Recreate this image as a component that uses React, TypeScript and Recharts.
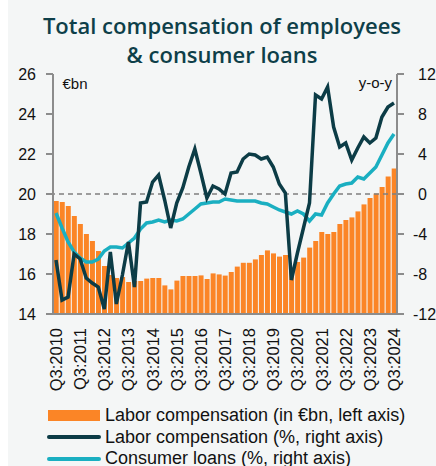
import React from "react";
import {
  ComposedChart,
  Bar,
  Line,
  XAxis,
  YAxis,
  ReferenceLine,
} from "recharts";

// quarters, Q3:2010 .. Q3:2024
const quarters = [
  "Q3:2010", "Q4:2010", "Q1:2011", "Q2:2011", "Q3:2011", "Q4:2011", "Q1:2012", "Q2:2012",
  "Q3:2012", "Q4:2012", "Q1:2013", "Q2:2013", "Q3:2013", "Q4:2013", "Q1:2014", "Q2:2014",
  "Q3:2014", "Q4:2014", "Q1:2015", "Q2:2015", "Q3:2015", "Q4:2015", "Q1:2016", "Q2:2016",
  "Q3:2016", "Q4:2016", "Q1:2017", "Q2:2017", "Q3:2017", "Q4:2017", "Q1:2018", "Q2:2018",
  "Q3:2018", "Q4:2018", "Q1:2019", "Q2:2019", "Q3:2019", "Q4:2019", "Q1:2020", "Q2:2020",
  "Q3:2020", "Q4:2020", "Q1:2021", "Q2:2021", "Q3:2021", "Q4:2021", "Q1:2022", "Q2:2022",
  "Q3:2022", "Q4:2022", "Q1:2023", "Q2:2023", "Q3:2023", "Q4:2023", "Q1:2024", "Q2:2024",
  "Q3:2024",
];

// labor compensation, €bn (left axis)
const laborBn = [
  19.65, 19.6, 19.4, 18.9, 18.5, 18.0, 17.65, 17.15, 16.4, 15.95,
  15.8, 15.85, 15.6, 15.65, 15.65, 15.77, 15.8, 15.8, 15.43, 15.23,
  15.67, 15.9, 15.9, 15.9, 15.93, 15.75, 16.03, 15.98, 15.92, 16.1,
  16.37, 16.56, 16.56, 16.73, 16.95, 17.18, 17.03, 16.87, 16.95, 16.12,
  16.6, 16.82, 17.32, 17.65, 18.1, 18.0, 18.1, 18.5, 18.7, 18.83,
  19.13, 19.48, 19.8, 20.02, 20.35, 20.87, 21.27,
];

// labor compensation, % y-o-y (right axis)
const laborPct = [
  -6.6, -10.6, -10.3, -6.0, -6.5, -8.4, -8.9, -9.3, -11.5, -5.8,
  -11.0, -8.1, -4.8, -9.3, -0.9, -0.8, 1.2, 1.9, -0.6, -3.4,
  -0.9, 0.6, 2.7, 4.5, 2.1, -0.4, 0.8, 0.5, 0.0, 2.1,
  2.2, 3.5, 4.0, 3.9, 3.5, 3.7, 2.7, 1.0, 0.1, -8.6,
  -5.9, -3.4, -0.9, 9.9, 9.5, 10.7, 6.7, 4.7, 5.1, 3.4,
  4.6, 5.7, 5.1, 5.6, 7.7, 8.7, 9.1,
];

// consumer loans, % y-o-y (right axis)
const loansPct = [
  -1.9, -3.4, -4.8, -5.8, -6.4, -6.8, -6.8, -6.5, -5.7, -5.3,
  -5.3, -5.4, -4.9, -4.4, -3.5, -2.9, -2.8, -2.6, -2.8, -2.6,
  -2.7, -2.5, -2.0, -1.5, -1.0, -0.9, -0.8, -0.8, -0.5, -0.6,
  -0.7, -0.7, -0.7, -0.7, -0.9, -1.0, -1.3, -1.6, -1.8, -2.0,
  -1.7, -2.0, -2.7, -2.0, -2.1, -0.9, 0.0, 0.8, 1.0, 1.1,
  1.7, 1.5, 2.1, 2.7, 3.9, 5.1, 6.0,
];

const leftTicks = [14, 16, 18, 20, 22, 24, 26];
const rightTicks = [-12, -8, -4, 0, 4, 8, 12];

const rows = quarters.map((q, i) => ({
  q,
  bn: laborBn[i],
  labor: laborPct[i],
  loans: loansPct[i],
}));

const FONT = "'Liberation Sans', Arial, sans-serif";
const ORANGE = "#fb8526";
const DARK = "#0c3c46";
const TEAL = "#1aafc1";
const AXIS = "#8c8c8c";

const XTick = (props: any) => {
  const { x, y, payload } = props;
  return (
    <text
      x={x}
      y={y}
      transform={`rotate(-90, ${x}, ${y})`}
      textAnchor="end"
      dominantBaseline="central"
      fontSize={16.5}
      fontFamily={FONT}
      fill="#111"
    >
      {payload.value}
    </text>
  );
};

// right labels: digits line up, the minus sign hangs to the left
const RIGHT_LABEL_X = 410;
const RightTick = (props: any) => {
  const { y, payload } = props;
  return (
    <text
      x={RIGHT_LABEL_X + (payload.value < 0 ? -5 : 0)}
      y={y}
      dy="0.355em"
      textAnchor="start"
      fontSize={16}
      fontFamily={FONT}
      fill="#111"
    >
      {payload.value}
    </text>
  );
};

const legendItems = [
  { label: "Labor compensation (in €bn, left axis)", color: ORANGE, kind: "bar" },
  { label: "Labor compensation (%, right axis)", color: DARK, kind: "line" },
  { label: "Consumer loans (%, right axis)", color: TEAL, kind: "line" },
];

export default function App() {
  return (
    <div
      style={{
        position: "absolute",
        left: 8,
        top: 0,
        width: 428,
        height: 466,
        background: "#f4f6f6",
        overflow: "hidden",
      }}
    >
      <div
        style={{
          position: "absolute",
          top: 11,
          left: 0,
          width: 428,
          textAlign: "center",
          fontFamily: "'Open Sans', sans-serif",
          fontWeight: 600,
          fontSize: 22,
          lineHeight: "29px",
          color: "#0e3f49",
        }}
      >
        Total compensation of employees
        <br />& consumer loans
      </div>

      <ComposedChart
        width={428}
        height={466}
        data={rows}
        margin={{ top: 74, right: 0, bottom: 62, left: 0 }}
        barCategoryGap="12%"
      >
        <XAxis
          dataKey="q"
          interval={3}
          tickLine={false}
          tickSize={0}
          tickMargin={14}
          height={90}
          axisLine={{ stroke: AXIS, strokeWidth: 2 }}
          tick={<XTick />}
        />
        <YAxis
          yAxisId="left"
          domain={[14, 26]}
          ticks={leftTicks}
          interval={0}
          width={45}
          tickSize={7}
          tickMargin={10}
          axisLine={{ stroke: AXIS, strokeWidth: 2 }}
          tickLine={{ stroke: AXIS, strokeWidth: 2 }}
          tick={{ fontSize: 16, fontFamily: FONT, fill: "#111" }}
        />
        <YAxis
          yAxisId="right"
          orientation="right"
          domain={[-12, 12]}
          ticks={rightTicks}
          interval={0}
          width={39}
          tickSize={7}
          tickMargin={2}
          axisLine={{ stroke: AXIS, strokeWidth: 2 }}
          tickLine={{ stroke: AXIS, strokeWidth: 2 }}
          tick={<RightTick />}
        />
        <Bar yAxisId="left" dataKey="bn" fill={ORANGE} isAnimationActive={false} />
        <ReferenceLine
          yAxisId="right"
          y={0}
          stroke="#7f7f7f"
          strokeWidth={1.5}
          strokeDasharray="5 4"
        />
        <Line
          yAxisId="right"
          dataKey="loans"
          stroke={TEAL}
          strokeWidth={3.5}
          dot={false}
          type="linear"
          isAnimationActive={false}
        />
        <Line
          yAxisId="right"
          dataKey="labor"
          stroke={DARK}
          strokeWidth={3.5}
          dot={false}
          type="linear"
          isAnimationActive={false}
        />
      </ComposedChart>

      <div
        style={{
          position: "absolute",
          left: 54.5,
          top: 76,
          fontFamily: FONT,
          fontSize: 15,
          lineHeight: "15px",
          color: "#111",
        }}
      >
        €bn
      </div>
      <div
        style={{
          position: "absolute",
          right: 428 - 384,
          top: 75,
          fontFamily: FONT,
          fontSize: 15,
          lineHeight: "15px",
          color: "#111",
        }}
      >
        y-o-y
      </div>

      {legendItems.map((it, i) => (
        <div
          key={it.label}
          style={{
            position: "absolute",
            left: 39,
            top: 405 + i * 21.5,
            height: 21,
            display: "flex",
            alignItems: "center",
            fontFamily: FONT,
            fontSize: 18,
            color: "#111",
            whiteSpace: "nowrap",
          }}
        >
          {it.kind === "bar" ? (
            <span
              style={{
                display: "inline-block",
                width: 52,
                height: 11,
                marginLeft: 1,
                marginRight: 5,
                background: it.color,
              }}
            />
          ) : (
            <span
              style={{
                display: "inline-block",
                width: 54,
                height: 4,
                borderRadius: 2,
                marginRight: 4,
                background: it.color,
              }}
            />
          )}
          {it.label}
        </div>
      ))}
    </div>
  );
}
